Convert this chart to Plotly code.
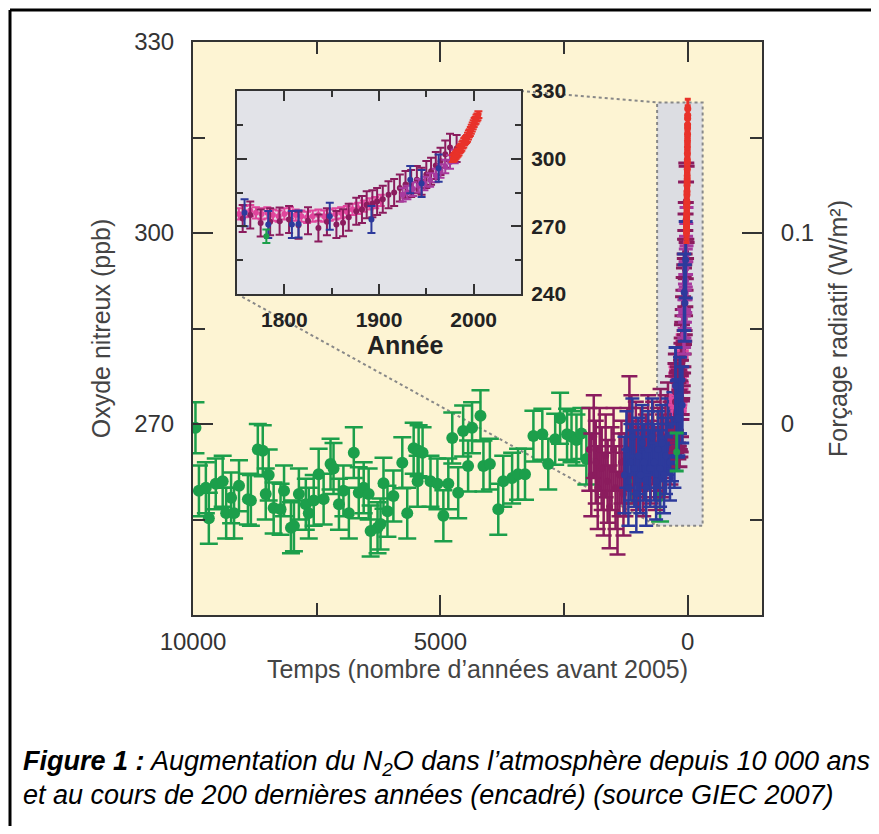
import plotly.graph_objects as go

# ---------------- main record: years before 2005 / ppb ----------------
green_bp = [9950, 9880, 9740, 9680, 9540, 9400, 9330, 9230, 9170, 9070,
            8890, 8830, 8690, 8590, 8530, 8470, 8370, 8230, 8160, 8020,
            7960, 7860, 7720, 7660, 7560, 7460, 7360, 7220, 7160, 7050,
            6960, 6850, 6750, 6650, 6550, 6450, 6410, 6270, 6210, 6150,
            6070, 5950, 5770, 5670, 5540, 5460, 5440, 5360, 5200, 5060,
            4940, 4840, 4760, 4640, 4540, 4440, 4360, 4190, 4130, 4000,
            3830, 3730, 3550, 3430, 3290, 3120, 2940, 2820, 2680, 2580,
            2440, 2350, 2250, 2150, 2050, 1130, 560]
green_ppb = [269.4, 259.5, 260.0, 255.2, 260.6, 261.0, 256.0, 258.4, 256.0, 260.3,
             258.2, 258.0, 266.0, 265.8, 259.0, 262.0, 256.8, 256.6, 259.5, 253.7,
             254.0, 259.0, 257.4, 256.0, 258.0, 262.1, 258.2, 263.7, 263.0, 257.4,
             259.5, 256.0, 265.5, 259.2, 260.0, 259.0, 253.2, 253.7, 254.3, 260.7,
             256.3, 258.7, 263.9, 256.0, 266.2, 261.0, 265.8, 265.5, 261.0, 260.6,
             255.6, 260.6, 267.8, 259.2, 268.9, 263.4, 269.4, 271.3, 263.4, 263.7,
             256.6, 261.0, 261.5, 262.1, 262.1, 268.1, 268.4, 263.7, 267.6, 270.9,
             268.4, 268.0, 267.5, 268.5, 264.5, 261.5, 258.7]

purple_bp = [1990, 1950, 1900, 1860, 1820, 1780, 1740, 1700, 1660, 1620,
             1580, 1540, 1500, 1460, 1420, 1380, 1340, 1300, 1260, 1220,
             1180, 1140, 1100, 1050, 1000, 950, 900, 850, 800, 750,
             700, 650, 600, 550, 500, 450, 400, 350, 300]
purple_ppb = [266, 262, 268, 264, 260, 266, 263, 259, 265, 261,
              257, 263, 266, 260, 256, 262, 264, 259, 262, 266,
              271, 268, 264, 267, 263, 266, 262, 265, 268, 264,
              267, 263, 266, 269, 265, 268, 270, 267, 271]

blue_bp = [1280, 1240, 1200, 1160, 1120, 1080, 1040, 1000, 960, 920,
           880, 840, 800, 760, 720, 680, 640, 600, 560, 520,
           480, 440, 400, 360, 320, 290, 270]
blue_ppb = [262, 266, 260, 264, 268, 263, 259, 265, 262, 267,
            264, 260, 266, 263, 268, 264, 261, 266, 263, 267,
            262, 265, 268, 264, 267, 269, 266]

# ---------------- inset records: calendar year / ppb ----------------
pink_year = [1752, 1758, 1764, 1770, 1776, 1782, 1788, 1794, 1800, 1806,
             1812, 1818, 1824, 1830, 1836, 1842, 1848, 1854, 1860, 1866,
             1872, 1878, 1884, 1890, 1896, 1902]
pink_ppb = [275.5, 276.5, 277.0, 276.0, 275.5, 276.0, 275.0, 274.5, 275.5, 276.0,
            275.0, 274.5, 274.0, 274.5, 275.0, 274.5, 275.0, 275.5, 276.0, 276.5,
            277.5, 278.0, 279.0, 280.0, 280.5, 281.5]

plum_year = [1756, 1764, 1775, 1785, 1795, 1805, 1815, 1825, 1836, 1845,
             1855, 1862, 1868, 1876, 1882, 1887, 1893, 1898, 1904, 1910,
             1916, 1922, 1928, 1934, 1940, 1945, 1950, 1955, 1960, 1965,
             1970, 1975, 1982]
plum_ppb = [273.5, 275.0, 271.5, 272.0, 272.3, 273.0, 270.5, 272.5, 269.3, 272.0,
            270.8, 271.6, 274.0, 276.7, 277.5, 279.6, 280.0, 281.0, 282.0, 284.0,
            285.0, 287.0, 288.5, 289.0, 290.7, 290.0, 293.0, 294.4, 297.0, 298.8,
            302.0, 305.0, 304.5]

mauve_year = [1925, 1930, 1936, 1942, 1948, 1954, 1960, 1965, 1970, 1975, 1980]
mauve_ppb = [284.0, 285.0, 286.5, 288.0, 289.0, 290.5, 292.5, 294.5, 296.5, 298.5, 301.0]

navy_year = [1758, 1783, 1808, 1815, 1848, 1892, 1933, 1945, 1963]
navy_ppb = [276.0, 270.8, 270.8, 271.0, 274.5, 273.0, 290.7, 289.0, 295.8]

lone_year = [1781]
lone_ppb = [265.6]

red_year = [1978, 1979, 1980, 1981, 1982, 1983, 1984, 1985, 1986, 1987,
            1988, 1989, 1990, 1991, 1992, 1993, 1994, 1995, 1996, 1997,
            1998, 1999, 2000, 2001, 2002, 2003, 2004, 2005]
red_ppb = [300.0, 300.5, 301.0, 301.5, 302.0, 302.5, 303.0, 304.0, 304.5, 305.0,
           306.0, 306.5, 307.5, 308.0, 308.5, 309.0, 310.0, 311.0, 311.5, 312.5,
           313.5, 314.5, 315.5, 316.5, 317.0, 318.0, 318.5, 319.5]

REF_YEAR = 2005

main_xticks = [10000, 5000, 0]
main_xlabels = ["10000", "5000", "0"]
main_xminor = [7500, 2500]
main_yticks = [270, 300, 330]
main_yminor = [255, 285, 315]
forcing_vals = [270, 300]
forcing_text = ["0", "0.1"]
inset_xticks = [1800, 1900, 2000]
inset_xminor = [1850, 1950]
inset_yticks = [240, 270, 300, 330]
inset_yminor = [255, 285, 315]

# ---------------- geometry ----------------
# targets are page pixels; the page body adds an 8px margin around the figure,
# so the figure is made 16px smaller to keep the page from scrolling
OFF = 8
W, H = 879 - 2 * OFF, 834 - 2 * OFF
L, R, T, B = 193 - OFF, 762 - OFF, 42 - OFF, 615 - OFF
XR = [10000, -1500]
YR = [240, 330]
INSET_XR = [1750, 2050]
INSET_YR = [240, 330]
IN_L, IN_R, IN_T, IN_B = 237 - OFF, 521 - OFF, 91 - OFF, 294 - OFF
ZOOM_BP = [620, -300]
ZOOM_PPB = [254, 320.5]

GREEN = "#1c9f4b"
PLUM = "#8b1c5e"
MAUVE = "#a83a9e"
PINK = "#e0459c"
NAVY = "#2d3a9c"
RED = "#e8322a"
CREAM = "#fdf4d3"
INSET_BG = "#e2e3e8"
AXC = "#333333"
FONT = "Liberation Sans, Arial, sans-serif"


def px_to_paper(px, py):
    return (px - L) / (R - L), (B - py) / (B - T)


def px_to_main(px, py):
    fx, fy = px_to_paper(px, py)
    return XR[0] + fx * (XR[1] - XR[0]), YR[0] + fy * (YR[1] - YR[0])


def err_scatter(x, y, color, size, err, cap, thick, xaxis="x", yaxis="y"):
    return go.Scatter(
        x=x, y=y, mode="markers", xaxis=xaxis, yaxis=yaxis,
        marker=dict(color=color, size=size, line=dict(width=0)),
        error_y=dict(type="constant", value=err, color=color,
                     thickness=thick, width=cap),
        showlegend=False, hoverinfo="skip",
    )


fig = go.Figure()

# main record
fig.add_trace(err_scatter(green_bp, green_ppb, GREEN, 12, 4.0, 9, 2.5))
fig.add_trace(err_scatter(purple_bp, purple_ppb, PLUM, 7, 6.5, 8, 2.5))
fig.add_trace(err_scatter(blue_bp, blue_ppb, NAVY, 7, 6.0, 7, 2.5))

# recent records, also drawn in the main panel (as years before 2005)
recent = [(pink_year, pink_ppb, PINK, 2.5, 7), (plum_year, plum_ppb, PLUM, 6.0, 8),
          (mauve_year, mauve_ppb, MAUVE, 3.0, 7), (navy_year, navy_ppb, NAVY, 6.0, 7),
          (lone_year, lone_ppb, GREEN, 3.0, 7), (red_year, red_ppb, RED, 1.5, 3)]
for yrs, vals, col, e, cap in recent:
    fig.add_trace(err_scatter([REF_YEAR - v for v in yrs], vals, col, 7, e, cap, 3))

# invisible trace so the right-hand forcing axis is drawn
fig.add_trace(go.Scatter(x=[XR[0]], y=[YR[0]], yaxis="y2", mode="markers",
                         marker=dict(opacity=0), showlegend=False, hoverinfo="skip"))

# inset
for yrs, vals, col, e, cap in recent:
    fig.add_trace(err_scatter(yrs, vals, col, 6, e, 4, 2, xaxis="x3", yaxis="y3"))

ax_common = dict(showline=True, linewidth=2, linecolor=AXC, ticks="inside",
                 tickwidth=2, tickcolor=AXC, showgrid=False, zeroline=False)
tick_font = dict(family=FONT, size=24, color="#333")
title_font = dict(family=FONT, size=25, color="#444")
inset_tick_font = dict(family=FONT, size=21, color="#222", weight="bold")

in_x0, in_y0 = px_to_paper(IN_L, IN_B)
in_x1, in_y1 = px_to_paper(IN_R, IN_T)

fig.update_layout(
    width=W, height=H,
    margin=dict(l=L, r=W - R, t=T, b=H - B, pad=0),
    paper_bgcolor="white", plot_bgcolor=CREAM,
    showlegend=False,
    xaxis=dict(**ax_common, range=XR, tickvals=main_xticks, ticktext=main_xlabels,
               ticklen=20, mirror="ticks", tickfont=tick_font, ticklabelstandoff=4,
               minor=dict(tickvals=main_xminor, ticklen=12, ticks="inside",
                          tickwidth=2, tickcolor=AXC),
               title=dict(text="Temps (nombre d\u2019années avant 2005)",
                          font=title_font, standoff=4),
               domain=[0, 1]),
    yaxis=dict(**ax_common, range=YR, tickvals=main_yticks, ticklen=20,
               tickfont=tick_font, ticklabelstandoff=12,
               minor=dict(tickvals=main_yminor, ticklen=12, ticks="inside",
                          tickwidth=2, tickcolor=AXC),
               title=dict(text="Oxyde nitreux (ppb)", font=title_font, standoff=16),
               domain=[0, 1]),
    yaxis2=dict(**ax_common, range=YR, overlaying="y", side="right", anchor="x",
                tickvals=forcing_vals, ticktext=forcing_text, ticklen=20,
                tickfont=tick_font, ticklabelstandoff=12,
                minor=dict(tickvals=main_yminor, ticklen=12, ticks="inside",
                           tickwidth=2, tickcolor=AXC),
                title=dict(text="Forçage radiatif (W/m\u00b2)", font=title_font,
                           standoff=16)),
    xaxis3=dict(**ax_common, range=INSET_XR, domain=[in_x0, in_x1], anchor="y3",
                tickvals=inset_xticks, ticklen=10, mirror="ticks",
                tickfont=inset_tick_font, ticklabelstandoff=6,
                minor=dict(tickvals=inset_xminor, ticklen=6, ticks="inside",
                           tickwidth=2, tickcolor=AXC)),
    yaxis3=dict(**ax_common, range=INSET_YR, domain=[in_y0, in_y1], anchor="x3",
                side="right", tickvals=inset_yticks, ticklen=10, mirror="ticks",
                tickfont=inset_tick_font, ticklabelstandoff=4,
                minor=dict(tickvals=inset_yminor, ticklen=6, ticks="inside",
                           tickwidth=2, tickcolor=AXC)),
)

# inset x title
ax_x, ax_y = px_to_paper(405 - OFF, 345 - OFF)
fig.add_annotation(xref="paper", yref="paper", x=ax_x, y=ax_y, showarrow=False,
                   xanchor="center", yanchor="middle", text="<b>Année</b>",
                   font=dict(family=FONT, size=25, color="#222"))

# zoom box in the main panel
fig.add_shape(type="rect", xref="x", yref="y", layer="below",
              x0=ZOOM_BP[0], x1=ZOOM_BP[1], y0=ZOOM_PPB[0], y1=ZOOM_PPB[1],
              fillcolor="#dcdde2", line=dict(color="#888", width=2, dash="dot"))
# connector lines from the inset to the zoom box
tr_x, tr_y = px_to_main(IN_R, IN_T)
bl_x, bl_y = px_to_main(IN_L, IN_B)
fig.add_shape(type="line", xref="x", yref="y", layer="below",
              x0=tr_x, y0=tr_y, x1=ZOOM_BP[0], y1=ZOOM_PPB[1],
              line=dict(color="#888", width=2, dash="dot"))
fig.add_shape(type="line", xref="x", yref="y", layer="below",
              x0=bl_x, y0=bl_y, x1=ZOOM_BP[0], y1=ZOOM_PPB[0],
              line=dict(color="#888", width=2, dash="dot"))
# inset background
fig.add_shape(type="rect", xref="x3", yref="y3", layer="below",
              x0=INSET_XR[0], x1=INSET_XR[1], y0=INSET_YR[0], y1=INSET_YR[1],
              fillcolor=INSET_BG, line=dict(width=0))

# page frame: only its left and top edges fall inside the picture
fx0, fy0 = px_to_paper(10 - OFF, 10 - OFF)
fx1, fy1 = px_to_paper(W + 20, H + 20)
fig.add_shape(type="line", xref="paper", yref="paper", layer="above",
              x0=fx0, x1=fx0, y0=fy0, y1=fy1, line=dict(color="black", width=3))
fig.add_shape(type="line", xref="paper", yref="paper", layer="above",
              x0=fx0, x1=fx1, y0=fy0, y1=fy0, line=dict(color="black", width=3))

# caption
cap_x, cap_y1 = px_to_paper(21 - OFF, 763 - OFF)
_, cap_y2 = px_to_paper(21 - OFF, 795 - OFF)
cap_font = dict(family=FONT, size=27, color="black")
fig.add_annotation(xref="paper", yref="paper", x=cap_x, y=cap_y1,
                   xanchor="left", yanchor="middle", showarrow=False, font=cap_font,
                   text="<b><i>Figure 1 :</i></b><i> Augmentation du N<sub>2</sub>O "
                        "dans l\u2019atmosphère depuis 10 000 ans</i>")
fig.add_annotation(xref="paper", yref="paper", x=cap_x, y=cap_y2,
                   xanchor="left", yanchor="middle", showarrow=False, font=cap_font,
                   text="<i>et au cours de 200 dernières années (encadré) "
                        "(source GIEC 2007)</i>")

fig.write_html("out.html")
